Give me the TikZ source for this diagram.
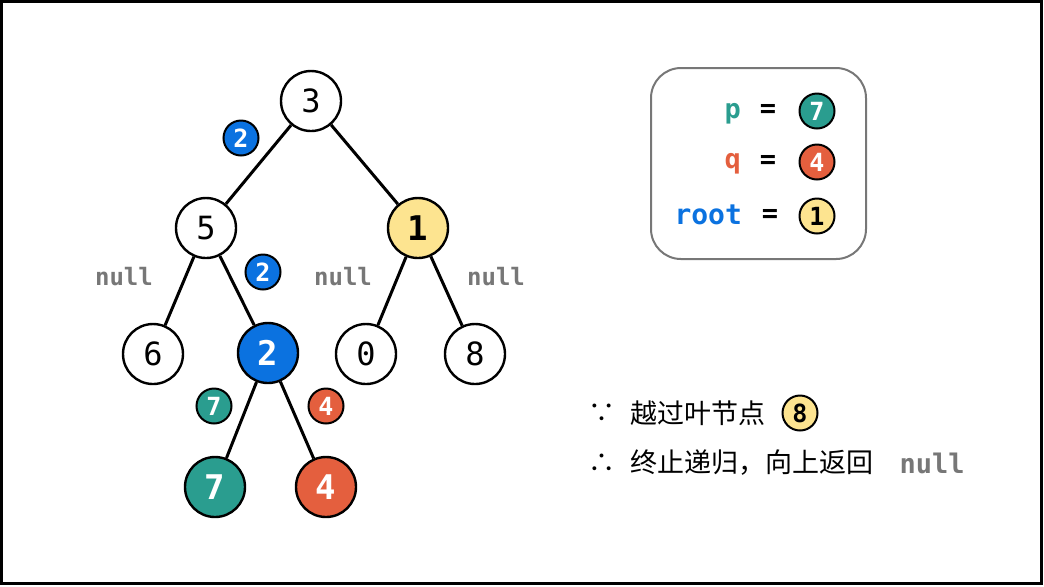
\documentclass[tikz,border=0pt]{standalone}
\usepackage{fontspec}
\setmainfont{DejaVu Sans}
\newfontfamily\monofont{DejaVu Sans Mono}
\newfontfamily\cjkfont{Noto Sans CJK SC}
\usepackage{xcolor}
\usepackage{tikz}
\usetikzlibrary{positioning}

\definecolor{pteal}{HTML}{2A9D8F}
\definecolor{qorange}{HTML}{E45F3E}
\definecolor{rootblue}{HTML}{0B72E0}
\definecolor{ansyellow}{HTML}{FDE490}
\definecolor{nullgray}{HTML}{777777}

\tikzset{
  treenode/.style={circle, draw, line width=1.2pt, minimum size=30pt, inner sep=0pt,
    font=\monofont\fontsize{16}{16}\selectfont},
  hotnode/.style={treenode, font=\monofont\bfseries\fontsize{17}{17}\selectfont},
  badge/.style={circle, draw, line width=1pt, minimum size=17.5pt, inner sep=0pt,
    text=white, font=\monofont\bfseries\fontsize{12.5}{12.5}\selectfont},
  nulltext/.style={text=nullgray, font=\monofont\bfseries\fontsize{12}{12}\selectfont},
  varname/.style={anchor=base east, font=\monofont\bfseries\fontsize{13.5}{13.5}\selectfont},
  branch/.style={line width=1.5pt},
}

\begin{document}
\begin{tikzpicture}[x=0.5pt, y=-0.5pt]
    \useasboundingbox (0,0) rectangle (1044,586);
    % Frame
    \draw[line width=1.5pt] (1.5,1.5) rectangle (1041.5,583.5);

    % Tree nodes
    \node[treenode] (n3) at (311,101) {3};
    \node[treenode] (n5) at (206,228) {5};
    \node[hotnode, fill=ansyellow] (n1) at (418,228) {1};
    \node[treenode] (n6) at (153,354) {6};
    \node[hotnode, fill=rootblue, text=white] (n2) at (268,353) {2};
    \node[treenode] (n0) at (366,354) {0};
    \node[treenode] (n8) at (475,354) {8};
    \node[hotnode, fill=pteal, text=white] (n7) at (215,487) {7};
    \node[hotnode, fill=qorange, text=white] (n4) at (326,487) {4};

    % Branches
    \draw[branch] (n3) -- (n5);
    \draw[branch] (n3) -- (n1);
    \draw[branch] (n5) -- (n6);
    \draw[branch] (n5) -- (n2);
    \draw[branch] (n1) -- (n0);
    \draw[branch] (n1) -- (n8);
    \draw[branch] (n2) -- (n7);
    \draw[branch] (n2) -- (n4);

    % Returned values
    \node[badge, fill=rootblue] (r35) at (241,138) {2};
    \node[badge, fill=rootblue] (r52) at (263,272) {2};
    \node[badge, fill=pteal] (r27) at (214,406) {7};
    \node[badge, fill=qorange] (r24) at (326,406) {4};
    \node[nulltext] (null56) at (124,277) {null};
    \node[nulltext] (null10) at (343,277) {null};
    \node[nulltext] (null18) at (496,277) {null};

    % Legend
    \draw[line width=1pt, nullgray, rounded corners=15pt] (651,68) rectangle (866,259);
    \node[varname, text=pteal] (pname) at (748,118) {p};
    \node[varname, anchor=center] (peq) at (768,111) {=};
    \node[badge, fill=pteal] (pval) at (817,111) {7};
    \node[varname, text=qorange] (qname) at (748,168) {q};
    \node[varname, anchor=center] (qeq) at (768,162) {=};
    \node[badge, fill=qorange] (qval) at (817,162) {4};
    \node[varname, text=rootblue, font=\monofont\bfseries\fontsize{14}{14}\selectfont] (rname) at (749,224) {root};
    \node[varname, anchor=center] (req) at (770,216) {=};
    \node[badge, fill=ansyellow, text=black] (rval) at (817,216) {1};

    % Notes
    \node[font=\cjkfont\fontsize{13.5}{13.5}\selectfont] (since) at (602,413) {∵};
    \node[anchor=west, font=\cjkfont\fontsize{13.5}{13.5}\selectfont] (skip) at (623,413) {越过叶节点};
    \node[badge, fill=ansyellow, text=black] (leaf8) at (800,413) {8};
    \node[font=\cjkfont\fontsize{13.5}{13.5}\selectfont] (hence) at (602,463) {∴};
    \node[anchor=west, font=\cjkfont\fontsize{13.5}{13.5}\selectfont] (stop) at (623,463) {终止递归，向上返回};
    \node[nulltext, font=\monofont\bfseries\fontsize{13.5}{13.5}\selectfont] (retnull) at (932,463) {null};
\end{tikzpicture}
\end{document}
